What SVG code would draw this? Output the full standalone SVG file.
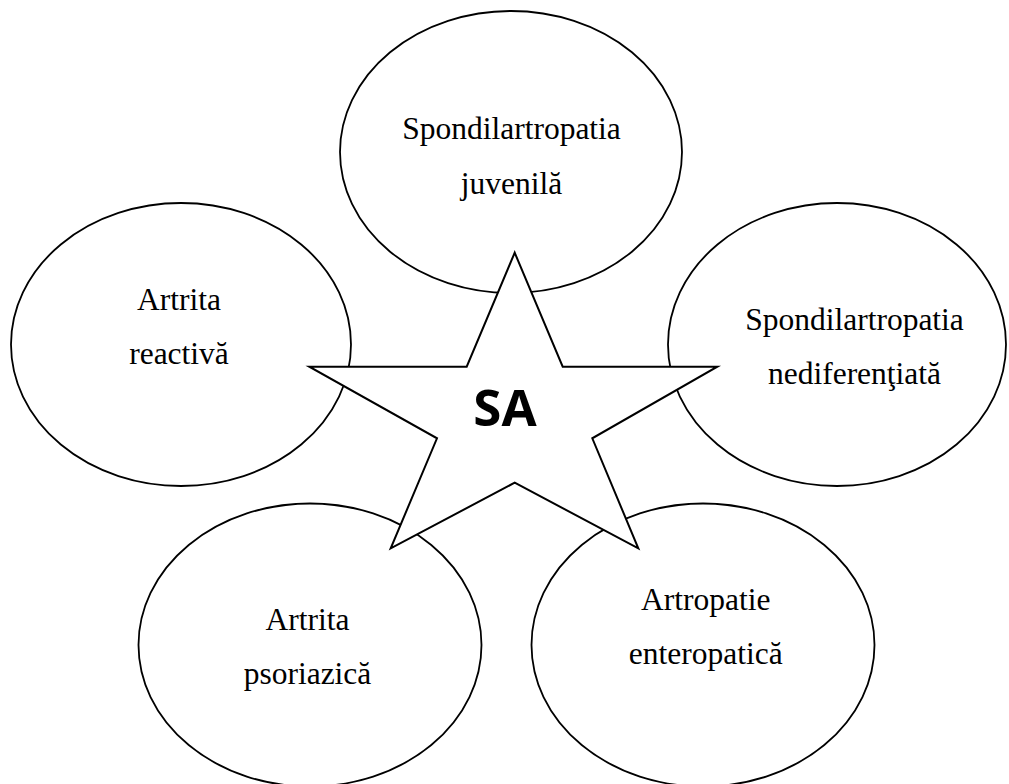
<svg xmlns="http://www.w3.org/2000/svg" width="1009" height="784" viewBox="0 0 1009 784">
<style>
.node{fill:#fff;stroke:#000;stroke-width:1.8}
.lbl{font-family:"Liberation Serif","Times New Roman",serif;font-size:31.5px;fill:#000;text-anchor:middle}
.star{fill:#fff;stroke:#000;stroke-width:2;stroke-linejoin:miter}
.sa{font-family:"Open Sans","DejaVu Sans",sans-serif;font-weight:bold;font-size:51px;fill:#000;text-anchor:middle}
</style>
<rect width="1009" height="784" fill="#fff"/>
<g id="n-juvenila">
<ellipse class="node" cx="511" cy="152" rx="171" ry="141"/>
<text class="lbl" x="511.5" y="138.5">Spondilartropatia</text>
<text class="lbl" x="511.5" y="193.5">juvenilă</text>
</g>
<g id="n-reactiva">
<ellipse class="node" cx="181" cy="344.5" rx="170" ry="141.5"/>
<text class="lbl" x="179" y="310">Artrita</text>
<text class="lbl" x="179" y="364">reactivă</text>
</g>
<g id="n-nediferentiata">
<ellipse class="node" cx="837" cy="344.5" rx="169" ry="141.5"/>
<text class="lbl" x="854.5" y="330">Spondilartropatia</text>
<text class="lbl" x="854.5" y="384">nediferenţiată</text>
</g>
<g id="n-psoriazica">
<ellipse class="node" cx="310" cy="645" rx="171.5" ry="141.5"/>
<text class="lbl" x="307.5" y="630">Artrita</text>
<text class="lbl" x="307.5" y="684">psoriazică</text>
</g>
<g id="n-enteropatica">
<ellipse class="node" cx="703" cy="645" rx="171.5" ry="141.5"/>
<text class="lbl" x="705.8" y="610">Artropatie</text>
<text class="lbl" x="705.8" y="664">enteropatică</text>
</g>
<g id="n-sa">
<polygon class="star" points="514.7,252.7 562.7,366.7 717.3,366.7 592.3,438.3 638.3,548.3 514.7,482.7 390.7,548.3 437,438.3 309.3,366.7 466.7,366.7"/>
<text class="sa" x="505" y="425.7">SA</text>
</g>
<g id="connectors"></g>
</svg>
